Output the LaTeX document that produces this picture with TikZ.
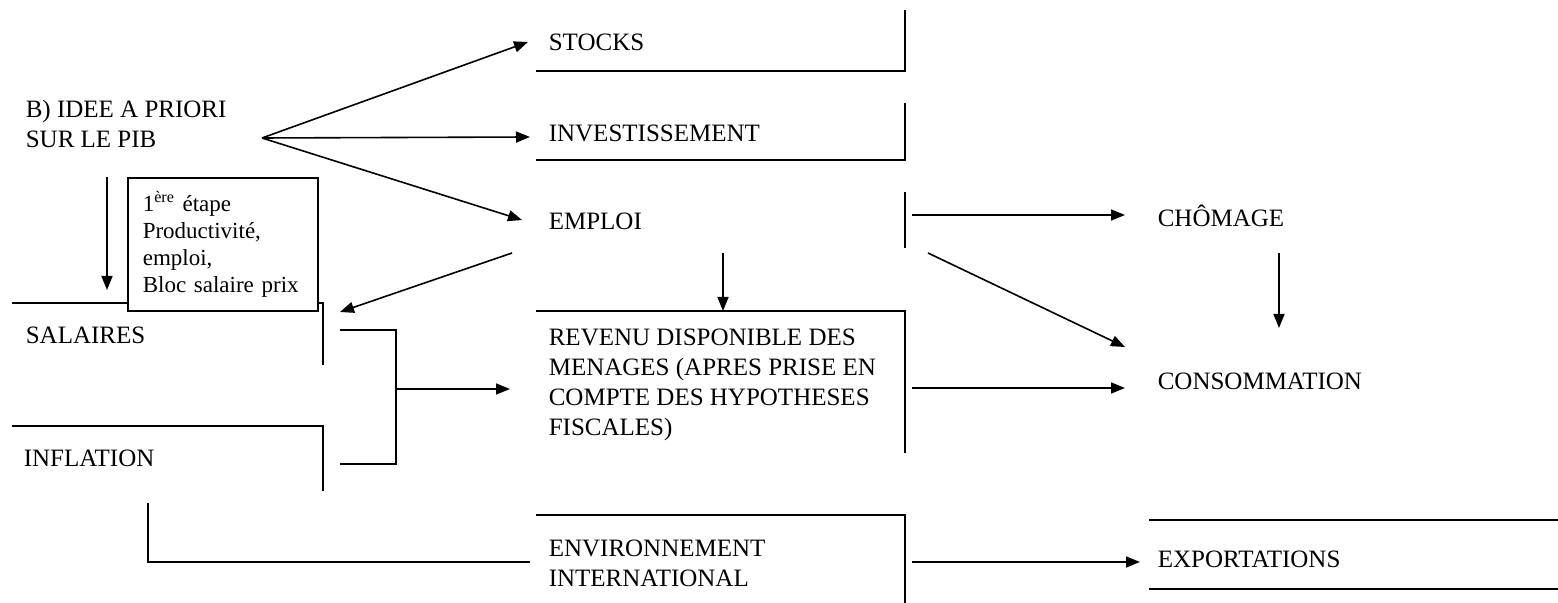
\documentclass[tikz,border=0pt]{standalone}
\usepackage{fontspec}
\setmainfont{Liberation Serif}
\usetikzlibrary{arrows.meta}

\begin{document}
\begin{tikzpicture}[x=0.5pt,y=0.5pt,yscale=-1,line width=0.8pt,
	lbl/.style={anchor=base west,inner sep=0pt,align=left,font=\fontsize{12.5}{15}\selectfont},
	fleche/.style={-{Triangle[length=7pt,width=5.5pt]}}]
	\useasboundingbox (0,0) rectangle (1558,603);
	
	% cadres
	\draw (536,71) -- (905,71) -- (905,10);
	\draw (536,160) -- (905,160) -- (905,103);
	\draw (905,192) -- (905,248);
	\draw (536,311) -- (905,311) -- (905,453);
	\draw (536,515) -- (905,515) -- (905,603);
	\draw (1149,520) -- (1558,520);
	\draw (1149,589) -- (1558,589);
	\draw (12,303) -- (323,303) -- (323,365);
	\draw (12,426) -- (323,426) -- (323,491);
	
	% textes (base = derniere ligne)
	\node[lbl] (titre) at (25,148) {B) IDEE A PRIORI\\SUR LE PIB};
	\node[lbl] (stocks) at (548,51) {STOCKS};
	\node[lbl] (invest) at (548,142) {INVESTISSEMENT};
	\node[lbl] (emploi) at (548,230) {EMPLOI};
	\node[lbl] (revenu) at (548,436) {REVENU DISPONIBLE DES\\MENAGES (APRES PRISE EN\\COMPTE DES HYPOTHESES\\FISCALES)};
	\node[lbl] (envint) at (548,587) {ENVIRONNEMENT\\INTERNATIONAL};
	\node[lbl] (salaires) at (25,344) {SALAIRES};
	\node[lbl] (inflation) at (23,467) {INFLATION};
	\node[lbl] (chomage) at (1157,227) {CHÔMAGE};
	\node[lbl] (conso) at (1157,390) {CONSOMMATION};
	\node[lbl] (export) at (1157,568) {EXPORTATIONS};
	\node[draw,fill=white,anchor=north west,inner xsep=7.5pt,inner ysep=0pt,
		minimum height=66.5pt,text width=80pt,align=left,
		font=\fontsize{11.5}{13.5}\selectfont] (etape) at (127,177)
		{1\textsuperscript{ère} étape\\Productivité,\\emploi,\\Bloc salaire prix};
	
	% points de depart et d'arrivee
	\coordinate (fan) at (262,138);
	\coordinate (aStocks) at (528,42);
	\coordinate (aInvest) at (530,137);
	\coordinate (aEmploi) at (522,220);
	\coordinate (dTitre) at (107,177);
	\coordinate (aSal) at (107,290);
	\coordinate (dEmpSal) at (512,253);
	\coordinate (aEmpSal) at (340,312);
	\coordinate (dEmpRev) at (723,253);
	\coordinate (aEmpRev) at (723,311);
	\coordinate (dEmpCho) at (912,215);
	\coordinate (aEmpCho) at (1125,215);
	\coordinate (dEmpCon) at (928,253);
	\coordinate (aEmpCon) at (1125,347);
	\coordinate (dChoCon) at (1279,253);
	\coordinate (aChoCon) at (1279,328);
	\coordinate (dRevCon) at (912,388);
	\coordinate (aRevCon) at (1125,388);
	\coordinate (dEnvExp) at (912,562);
	\coordinate (aEnvExp) at (1140,562);
	\coordinate (accol) at (396,389);
	\coordinate (aRev) at (510,389);
	
	% fleches
	\draw[fleche] (fan) -- (aStocks);
	\draw[fleche] (fan) -- (aInvest);
	\draw[fleche] (fan) -- (aEmploi);
	\draw[fleche] (dTitre) -- (aSal);
	\draw[fleche] (dEmpSal) -- (aEmpSal);
	\draw[fleche] (dEmpRev) -- (aEmpRev);
	\draw[fleche] (dEmpCho) -- (aEmpCho);
	\draw[fleche] (dEmpCon) -- (aEmpCon);
	\draw[fleche] (dChoCon) -- (aChoCon);
	\draw[fleche] (dRevCon) -- (aRevCon);
	\draw[fleche] (dEnvExp) -- (aEnvExp);
	\draw (340,330) -- (396,330) -- (396,464) -- (340,464);
	\draw[fleche] (accol) -- (aRev);
	\draw (148,503) -- (148,562) -- (530,562);
	
\end{tikzpicture}
\end{document}
